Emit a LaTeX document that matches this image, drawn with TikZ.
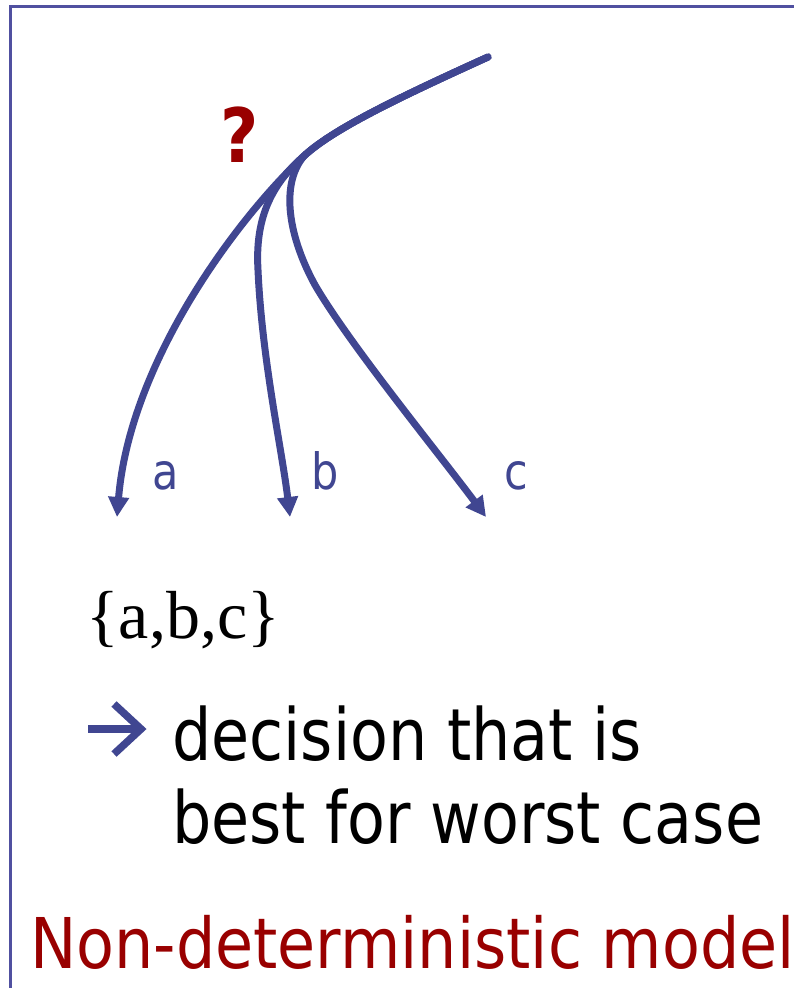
\documentclass[tikz,border=0pt]{standalone}
\usepackage{fontspec}
\usetikzlibrary{arrows.meta}
\setmainfont{Liberation Serif}
\newfontfamily\tah{DejaVu Sans}[FakeStretch=0.86]
\newfontfamily\tahw{DejaVu Sans}[FakeStretch=0.885]
\newfontfamily\tahb{DejaVu Sans Bold}[FakeStretch=0.88]
\definecolor{curveblue}{RGB}{64,70,145}
\definecolor{framecol}{RGB}{80,80,160}
\definecolor{darkred}{RGB}{153,0,0}
\tikzset{
  branch/.style={draw=curveblue, line width=7pt, line cap=round,
    -{Triangle[length=20pt,width=20pt]}},
  lbl/.style={text=curveblue, inner sep=0pt, anchor=base west,
    font=\tah\fontsize{50}{60}\selectfont},
  body/.style={inner sep=0pt, anchor=base west,
    font=\tah\fontsize{72}{83}\selectfont},
  bulletarrow/.style={draw=curveblue, line width=7.5pt},
}
\begin{document}
\begin{tikzpicture}[x=1pt,y=-1pt]
\useasboundingbox (0,0) rectangle (794,988);
\fill[white] (0,0) rectangle (794,988);
\draw[framecol, line width=3pt] (10,988) -- (10,6.5) -- (794,6.5);
\coordinate (s) at (488,57);
\coordinate (j) at (305,155);
\coordinate (ta) at (117,517);
\coordinate (tb) at (290,517);
\coordinate (tc) at (486,517);
\draw[branch] (s) .. controls (400,97) and (335,128) .. (j)
  .. controls (240,215) and (130,360) .. (ta);
\draw[branch] (s) .. controls (400,97) and (335,128) .. (j)
  .. controls (270,185) and (255,220) .. (258,270)
  .. controls (262,360) and (282,450) .. (tb);
\draw[branch] (s) .. controls (400,97) and (335,128) .. (j)
  .. controls (282,180) and (285,230) .. (315,285)
  .. controls (350,345) and (440,455) .. (tc);
\node[text=darkred, inner sep=0pt, anchor=base west,
  font=\tahb\fontsize{75}{80}\selectfont] (q) at (220,162) {?};
\node[lbl] (la) at (152,489) {a};
\node[lbl] (lb) at (311,489) {b};
\node[lbl] (lc) at (504,489) {c};
\node[inner sep=0pt, anchor=base west, font=\fontsize{68}{72}\selectfont]
  (set) at (86,638) {\{a,b,c\}};
% bullet arrow
\coordinate (arrL) at (88,729);
\coordinate (arrT) at (141,729);
\coordinate (arrU) at (114,704);
\coordinate (arrD) at (114,754);
\draw[bulletarrow] (arrL) -- (arrT);
\draw[bulletarrow, line join=miter] (arrU) -- (arrT) -- (arrD);
\node[body] (l1) at (172,760) {decision that is};
\node[body] (l2) at (172,843) {best for worst case};
\node[text=darkred, inner sep=0pt, anchor=base west,
  font=\tahw\fontsize{70}{80}\selectfont] (title) at (30,968) {Non-deterministic model};
\end{tikzpicture}
\end{document}
